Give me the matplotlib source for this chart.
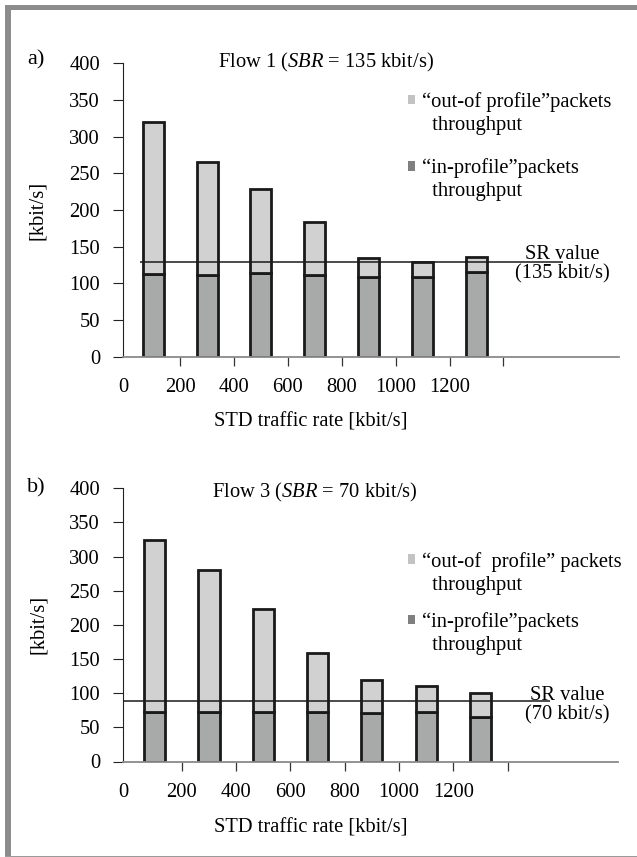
import matplotlib
matplotlib.use("Agg")
import matplotlib.pyplot as plt
from matplotlib.patches import Patch, Rectangle

plt.rcParams["font.family"] = "Liberation Serif"
plt.rcParams["font.size"] = 14.8
plt.rcParams["mathtext.fontset"] = "custom"
plt.rcParams["mathtext.rm"] = "Liberation Serif"
plt.rcParams["mathtext.it"] = "Liberation Serif:italic"

# data (kbit/s)
std_rate = [100, 300, 500, 700, 900, 1100, 1300]
in_profile_a = [113, 112, 114, 111, 109, 108, 115]
total_a = [320, 265, 228, 183, 135, 129, 136]
in_profile_b = [73, 72, 72, 72, 71, 72, 65]
total_b = [325, 281, 223, 159, 119, 110, 101]
out_profile_a = [t - i for t, i in zip(total_a, in_profile_a)]
out_profile_b = [t - i for t, i in zip(total_b, in_profile_b)]
sr_line_a = 129
sr_line_b = 89
xtick_vals = [200, 400, 600, 800, 1000, 1200, 1400]
xtick_labels = ["200", "400", "600", "800", "1000", "1200", ""]
ytick_vals = [0, 50, 100, 150, 200, 250, 300, 350, 400]

IN_COL = "#a8aaa9"
OUT_COL = "#d1d1d1"
IN_MARK = "#7f7f7f"
OUT_MARK = "#c3c3c3"
EDGE = "#1a1a1a"
FRAME = "#8c8c8c"

W, H = 637, 857
fig = plt.figure(figsize=(W / 100, H / 100), dpi=100)

# grey frame
fig.add_artist(Rectangle((5 / W, 1 - 10 / H), 632 / W, 5 / H,
                         transform=fig.transFigure, color=FRAME, lw=0))
fig.add_artist(Rectangle((5 / W, 0), 6 / W, 1 - 5 / H,
                         transform=fig.transFigure, color=FRAME, lw=0))
fig.add_artist(Rectangle((5 / W, 0), 1, 1.5 / H,
                         transform=fig.transFigure, color="#9a9a9a", lw=0))


def px_axes(left, right, bottom, top):
    return [left / W, 1 - bottom / H, (right - left) / W, (bottom - top) / H]


def panel(rect, xlim, ins, outs, sr, sr_x, sr_text, sr_pos, title, title_pos,
          out_label, leg_x, leg_y, xlab_pos, tag, tag_pos):
    ax = fig.add_axes(rect)
    ax.bar(std_rate, ins, width=78, color=IN_COL, edgecolor=EDGE, linewidth=2.0,
           zorder=2)
    ax.bar(std_rate, outs, width=78, bottom=ins, color=OUT_COL, edgecolor=EDGE,
           linewidth=2.0, zorder=2)
    ax.hlines(sr, sr_x[0], sr_x[1], color="#1a1a1a", lw=1.1, zorder=3)
    ax.text(sr_pos[0], sr_pos[1], sr_text, ha="center", va="center",
            multialignment="center", linespacing=1.05)

    ax.set_xlim(*xlim)
    ax.set_ylim(0, 400)
    ax.set_xticks([xlim[0]] + xtick_vals)
    ax.set_xticklabels(["0"] + xtick_labels)
    ax.xaxis.get_major_ticks()[0].tick1line.set_visible(False)
    ax.set_yticks(ytick_vals)
    ax.tick_params(axis="y", direction="out", length=7.2, width=0.8, pad=9.5,
                   color="#222222")
    ax.tick_params(axis="x", direction="out", length=6.5, width=0.9, pad=9,
                   color="#333333")
    for s in ["top", "right"]:
        ax.spines[s].set_visible(False)
    ax.spines["left"].set_color("#222222")
    ax.spines["left"].set_linewidth(0.8)
    ax.spines["bottom"].set_color("#8a8a8a")
    ax.spines["bottom"].set_linewidth(1.3)

    ax.set_ylabel("[kbit/s]", va="center")
    ax.yaxis.set_label_coords(-0.172, 0.5)
    ax.set_xlabel("STD traffic rate [kbit/s]", va="center")
    ax.xaxis.set_label_coords(*xlab_pos)

    ax.text(title_pos[0], title_pos[1], title, transform=ax.transAxes,
            ha="center", va="center")
    fig.text(tag_pos[0] / W, 1 - tag_pos[1] / H, tag, ha="center", va="center",
             fontsize=16)

    blank = Patch(facecolor="none", edgecolor="none")
    common = dict(frameon=False, loc="center left", borderpad=0,
                  borderaxespad=0, handlelength=0.35, handleheight=0.35,
                  handletextpad=0.33, labelspacing=0.2)
    leg1 = ax.legend([Patch(facecolor=OUT_MARK, edgecolor="none"), blank],
                     [out_label, "  throughput"],
                     bbox_to_anchor=(leg_x, leg_y[0]), **common)
    ax.add_artist(leg1)
    ax.legend([Patch(facecolor=IN_MARK, edgecolor="none"), blank],
              ["\u201cin-profile\u201dpackets", "  throughput"],
              bbox_to_anchor=(leg_x, leg_y[1]), **common)
    return ax


panel(px_axes(123.3, 619.3, 356.7, 63.3), (-11, 1830),
      in_profile_a, out_profile_a, sr_line_a, (50, 1620),
      "SR value\n(135 kbit/s)", (1618, 126),
      "Flow 1 ($\\mathit{SBR}$ = 135 kbit/s)", (0.4087, 1.004),
      "\u201cout-of profile\u201dpackets", 0.574, (0.829, 0.6026),
      (0.378, -0.2226), "a)", (36, 60))

panel(px_axes(123.3, 618.3, 761.5, 488.3), (-16, 1808),
      in_profile_b, out_profile_b, sr_line_b, (-16, 1556),
      "SR value\n(70 kbit/s)", (1619, 82),
      "Flow 3 ($\\mathit{SBR}$ = 70 kbit/s)", (0.387, 0.9865),
      "\u201cout-of  profile\u201d packets", 0.575, (0.689, 0.469),
      (0.379, -0.2434), "b)", (36, 488))

fig.savefig("out.png", dpi=100, facecolor="white")
